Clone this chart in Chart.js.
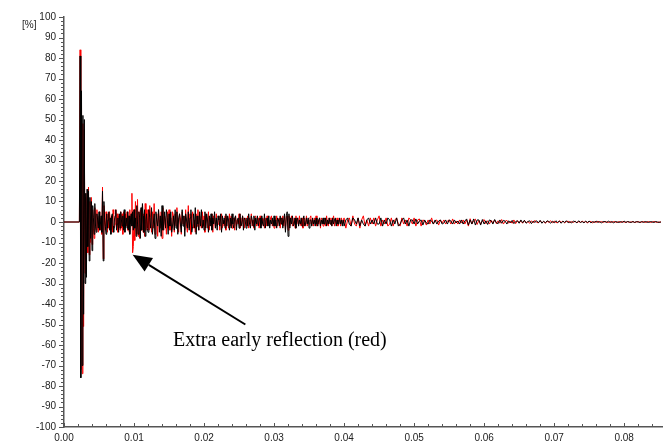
<!DOCTYPE html>
<html>
<head>
<meta charset="utf-8">
<script src="https://cdn.jsdelivr.net/npm/chart.js@4/dist/chart.umd.min.js"></script>
<style>
  html, body { margin:0; padding:0; background:#fff; }
  .wrap { position:relative; width:668px; height:445px; }
  canvas { display:block; }
  .unit { position:absolute; left:22px; top:19px; font:10px "Liberation Sans", Arial, sans-serif; color:#222; }
  .note { position:absolute; left:173px; top:328px; font:20px "Liberation Serif", "Times New Roman", serif; color:#000; white-space:nowrap; }
</style>
</head>
<body>
<div class="wrap">
  <canvas id="ir" width="668" height="445"></canvas>
  <div class="unit">[%]</div>
  <div class="note">Extra early reflection (red)</div>
</div>
<script>
// 시간축 구간 (s): 구간 시작, 샘플 간격
const segStart = [0.0022, 0.012, 0.040];
const segStep  = [0.0001, 0.000125, 0.00025];
const xTicks = [0, 0.01, 0.02, 0.03, 0.04, 0.05, 0.06, 0.07, 0.08];

// 검정 (기준) 응답 [%]
const blackA = [0, 81, -76, 64, -70, 52, -45, 50, -30, 14, -27, 16, -12, 15, -19, 12, -8, 10, -14,
  8, 2, -6, 9, -2, -5, 4, 1, -3, 5, -4, -1, 3, -5, 15, -19, 10, 2, -2, -6,
  4, -3, 1, 5, -4, 2, -6, 3, 4, -2, -5, 1, 3, 6, -4, -1, 2, -5, 4, -3,
  5, 1, -2, 3, -4, 6, -5, -1, 2, -3, 5, -4, 3, -6, 1, 4, -2, 5, -4, 6,
  -3, 2, -7, 8, -1, -6, 5, 2, -8, 7, -4, 9, 3, -5, 6, -7, 1, 4, -3];
const blackB = [
  -5, 6, 2, -3, 7, -6, -1, 4, -8, 5, 1, -2, 6, -5, 3, -7,
  8, -4, -1, 5, -3, 6, 2, -6, 4, -2, 5, -5, -2, 3, -4, 6,
  -3, 5, -6, 2, 4, -1, -5, 6, -2, 3, -7, 4, 1, -3, 5, -4,
  2, 6, -5, -2, 4, -3, 7, -6, 3, -1, -4, 5, -2, 6, -3, 1,
  -4, 5, -3, 4, 1, -5, 3, -2, 4, -4, 2, -1, 5, -3, 2, -4,
  3, 1, -2, 4, -5, 3, -1, 2, -3, 4, -2, 3, 1, -4, 2, -3,
  4, -1, -3, 2, 3, -4, 1, 2, -3, 4, -2, -1, 3, -4, 2, 1,
  -3, 2, -2, 4, -1, -3, 3, 1, -2, 3, -4, 2, -1, 3, -2, 1,
  2, -3, 3, -1, -2, 4, -3, 1, 2, -2, 3, -3, 1, -1, 2, -2,
  3, -2, 1, -3, 2, 1, -2, 3, -1, 2, -3, 1, 4, -5, 3, 5,
  -7, 4, -3, 2, -1, 3, -2, -1, 2, -3, 1, 2, -2, 1, -1, 2,
  -2, 1, 3, -2, -1, 2, -1, 2, -3, 1, 1, -2, 2, -1, 1, -2,
  2, -1, -2, 1, 2, -2, 1, -1, 2, -1, -1, 2, -2, 1, -1, 2,
  -1, 1, -2, 2, -1, 1, 2, -2, 1, -1, -1, 2, -1, 1, -2, 1];
const blackC = [
  -2, 1, 2, -1, -2, 2, 1, -1, 2, -2, 1, -1, -2, 1,
  2, -1, 1, -1, 2, -1, -1, 2, -2, 1, -1, 2, 1, -2,
  1, -1, 2, -2, -1, 1, 2, -1, 1, -2, 1, 1, -1, 1.5,
  -1, 0.5, 1, -1.5, 1, -0.5, -1, 1, 0.5, -1, 1, -1, 0.5, 1,
  -1, -0.5, 1, -1, 1, 0.5, -1, 1, -0.5, 0.5, -1, 1, -1, 0.5,
  1.5, -1.5, 1, -1, 1.5, -1.5, 1, 1, -1.5, 1.2, -1, 0.6, -1.2, 1,
  0.6, -1, 1.2, -0.4, -0.8, 1, -0.6, 0.8, 0.4, -1, 0.6, -0.4, 0.8, -0.8,
  0.2, 0.6, -0.6, 1, -0.4, 0.8, -0.6, 0.2, 0.6, -0.8, 0.4, -0.2, 0.6, -0.4,
  0.8, -0.6, 0.4, -0.4, 0.6, 0.2, -0.6, 0.4, -0.4, 0.6, -0.2, 0.4, -0.6, 0.4,
  -0.2, 0.6, -0.4, 0.2, -0.4, 0.4, 0.2, -0.4, 0.6, -0.2, 0.2, -0.4, 0.4, -0.2,
  0.4, -0.4, 0.2, -0.2, 0.4, -0.2, 0.2, -0.4, 0.2, 0.2, -0.2, 0.4, -0.2, 0.2,
  -0.4, 0.2, 0, -0.2, 0.2, -0.2, 0.4, -0.2, 0.2, 0, -0.2, 0.2, -0.2, 0.2,
  0, -0.2, 0.2, -0.2, 0.2, 0, -0.2, 0.2, 0, -0.2, 0.2, 0, -0.2, 0];

// 빨강 (초기 반사 추가) 응답 [%]
const redA = [0, 84, -72, 60, -74, 48, -51, 45, -25, 12, -22, 14, -15, 17, -16, 10, -10, 12, -11,
  6, -3, -8, 7, 3, -4, 6, -1, -5, 3, 5, -4, 2, -6, 17, -18, 8, -1, -4, 5,
  2, -5, 4, -3, 5, 1, -4, 3, -5, 6, 4, -3, -1, 6, -2, 4, -5, 3, 1, -4,
  5, -3, 4, -6, 5, 2, -3, 4, -2, 5, -4, 3, -5, 6, -1, 4, 14, -15, -12, 6,
  -9, 10, 3, -6, 11, -7, 5, -8, 6, 2, -4, 8, -5, 4, -7, 9, -4, 6, -3];
const redB = [
  6, -4, 8, 2, -5, 5, -3, 9, -6, -2, 4, -7, 6, 1, -3, 5,
  -8, 7, -4, 3, 1, -6, 5, -3, 6, -4, 2, -7, 5, 3, -5, 4,
  -2, 7, -3, -5, 4, 2, -6, 5, -1, 3, -4, 6, -2, -5, 8, -3,
  4, -6, 2, 5, -3, 1, -5, 4, -2, 6, -4, 3, -1, -3, 5, -2,
  3, -5, 4, 1, -3, 5, -4, 2, -2, 4, -5, 3, 1, -3, 4, -2,
  -1, 3, -4, 2, 4, -3, 1, -2, 3, -4, 2, 1, -3, 4, -2, 3,
  -3, 1, 2, -4, 3, -2, 1, -1, 4, -3, 2, -2, 3, 1, -3, 2,
  1, -2, 3, -3, 2, -1, 4, -2, 1, -3, 2, 3, -2, -1, 2, -3,
  3, -1, -2, 2, 1, -3, 2, -2, 3, -1, 1, -2, 2, 3, -2, 1,
  -3, 2, -1, 3, -2, 1, 2, -3, 2, -1, 3, -2, 3, -4, 2, 3,
  -4, 3, -2, 1, 3, -2, -1, 2, -3, 3, -1, 2, -2, 3, -1, -2,
  2, -3, 1, 2, -2, 3, -2, 1, -1, 2, 3, -2, 1, -2, 2, -1,
  3, -2, 1, -1, 2, -3, 2, 1, -2, 1, 2, -2, 3, -1, -2, 2,
  -1, 2, -2, 1, 3, -2, 1, -1, 2, -2, 1, 1, -2, 2, -1, 1];
const redC = [
  2, -3, 1, 2, -2, 3, -1, -2, 2, -3, 1, 3, -2, 1,
  -2, 2, -1, 2, -2, 1, 3, -2, 1, -1, 2, -2, -1, 2,
  -2, 1, 2, -1, -2, 2, -1, 1, -2, 2, 1, -1, 2, -2,
  1, 1.5, -2, 1, 0.5, -1.5, 1, -1, 2, -1, 0.5, 1, -1.5, 1,
  -0.5, 1, -1, 0.5, 1, -1, 1.5, -1, 0.5, -1, 1, -0.5, 1, -1,
  1, -2, 1.6, -1, 0.6, 1.4, -1.2, 0.8, -1, 0.4, 1.2, -0.8, 0.6, -1,
  0.8, -0.4, 1, -0.8, 0.6, -0.6, 1.2, -1, 0.4, 0.8, -0.6, 0.4, -0.6, 1,
  -0.8, 0.6, -0.2, 0.4, -0.6, 0.8, -0.4, 0.2, -0.6, 0.6, -0.4, 0.8, -0.2, -0.4,
  0.6, -0.4, 0.2, -0.6, 0.4, -0.2, 0.6, -0.4, 0.4, -0.2, -0.4, 0.6, -0.2, 0.4,
  -0.4, 0.2, 0.4, -0.4, 0.2, -0.2, 0.4, -0.4, 0.2, -0.2, 0.4, -0.2, 0.2, -0.4,
  0.2, 0.2, -0.4, 0.2, -0.2, 0.4, -0.2, 0.2, -0.2, 0.2, 0, -0.2, 0.2, -0.2,
  0.2, 0, -0.2, 0.2, -0.2, 0.2, 0, -0.2, 0.2, -0.2, 0, 0.2, -0.2, 0,
  0.2, -0.2, 0, 0.2, -0.2, 0, 0.2, -0.2, 0, 0.2, 0, -0.2, 0, 0];

// 화살표 (데이터 좌표)
const arrowFrom = [0.0259, -50];
const arrowTo   = [0.0098, -16];

// 구간 배열 → {x,y}
function toPoints(segs){
  const pts = [{x:0, y:0}];
  segs.forEach((vals, s)=>{
    vals.forEach((v, i)=> pts.push({x: segStart[s] + i*segStep[s], y: v}));
  });
  return pts;
}

const AXIS = '#555';
const FONT = {family:'"Liberation Sans", Arial, sans-serif', size:10};

// 보조 눈금 + 화살표
const extras = {
  id:'extras',
  afterDraw(chart){
    const {ctx, scales:{x, y}, chartArea:a} = chart;
    ctx.save();
    ctx.strokeStyle = AXIS; ctx.lineWidth = 1;
    for (let v=-100; v<=100; v+=2){
      const py = Math.round(y.getPixelForValue(v)) + 0.5;
      const len = v % 10 === 0 ? 5 : 3;
      ctx.beginPath(); ctx.moveTo(a.left - len, py); ctx.lineTo(a.left, py); ctx.stroke();
    }
    for (let k=0; k<=42; k++){
      const px = Math.round(x.getPixelForValue(k*0.002)) + 0.5;
      const len = k % 5 === 0 ? 4 : 3;
      ctx.beginPath(); ctx.moveTo(px, a.bottom); ctx.lineTo(px, a.bottom - len); ctx.stroke();
    }
    // 화살표
    const x0 = x.getPixelForValue(arrowFrom[0]), y0 = y.getPixelForValue(arrowFrom[1]);
    const x1 = x.getPixelForValue(arrowTo[0]),   y1 = y.getPixelForValue(arrowTo[1]);
    const ang = Math.atan2(y1-y0, x1-x0), hl = 19, hw = 8;
    const bx = x1 - hl*Math.cos(ang), by = y1 - hl*Math.sin(ang);
    ctx.strokeStyle = '#000'; ctx.fillStyle = '#000'; ctx.lineWidth = 2;
    ctx.beginPath(); ctx.moveTo(x0, y0); ctx.lineTo(bx, by); ctx.stroke();
    ctx.beginPath();
    ctx.moveTo(x1, y1);
    ctx.lineTo(bx + hw*Math.sin(ang), by - hw*Math.cos(ang));
    ctx.lineTo(bx - hw*Math.sin(ang), by + hw*Math.cos(ang));
    ctx.closePath(); ctx.fill();
    ctx.restore();
  }
};

new Chart(document.getElementById('ir'), {
  type: 'line',
  data: {
    datasets: [
      { label:'black', data: toPoints([blackA, blackB, blackC]), borderColor:'#000', borderWidth:1, order:1 },
      { label:'red',   data: toPoints([redA, redB, redC]),       borderColor:'#ff0000', borderWidth:1, order:2 }
    ]
  },
  options: {
    responsive:false,
    animation:false,
    devicePixelRatio:1,
    layout:{ padding:{ top:17, right:6, bottom:0, left:0 } },
    elements:{ point:{ radius:0 }, line:{ tension:0 } },
    plugins:{ legend:{ display:false }, tooltip:{ enabled:false } },
    scales:{
      x:{
        type:'linear', min:0, max:0.0854,
        afterBuildTicks: s => { s.ticks = xTicks.map(v=>({value:v})); },
        afterFit: s => { s.height = 18; },
        grid:{ drawOnChartArea:false, drawTicks:false },
        border:{ display:true, color:AXIS, width:1.5 },
        ticks:{ font:FONT, color:'#222', padding:5, maxRotation:0, autoSkip:false,
                callback: v => v.toFixed(2) }
      },
      y:{
        min:-100, max:100,
        afterFit: s => { s.width = 64; },
        grid:{ drawOnChartArea:false, drawTicks:false },
        border:{ display:true, color:AXIS, width:1.5 },
        ticks:{ font:FONT, color:'#222', padding:8, stepSize:10, autoSkip:false }
      }
    }
  },
  plugins:[extras]
});
</script>
</body>
</html>
